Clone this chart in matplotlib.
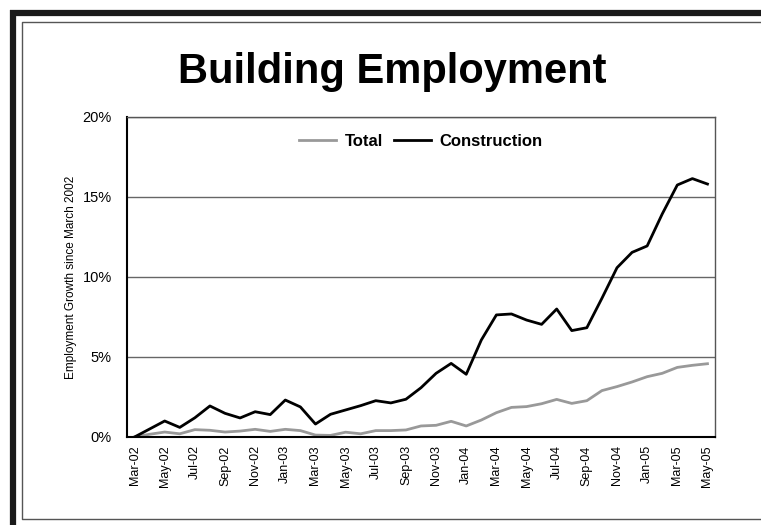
import numpy as np
import matplotlib
matplotlib.use('Agg')
import matplotlib.pyplot as plt
from matplotlib.lines import Line2D

plt.rcParams['font.family'] = ['Liberation Sans', 'DejaVu Sans']

# Monthly labels, Mar-02 through May-05
months = ['Mar-02', 'Apr-02', 'May-02', 'Jun-02', 'Jul-02', 'Aug-02', 'Sep-02', 'Oct-02',
          'Nov-02', 'Dec-02', 'Jan-03', 'Feb-03', 'Mar-03', 'Apr-03', 'May-03', 'Jun-03',
          'Jul-03', 'Aug-03', 'Sep-03', 'Oct-03', 'Nov-03', 'Dec-03', 'Jan-04', 'Feb-04',
          'Mar-04', 'Apr-04', 'May-04', 'Jun-04', 'Jul-04', 'Aug-04', 'Sep-04', 'Oct-04',
          'Nov-04', 'Dec-04', 'Jan-05', 'Feb-05', 'Mar-05', 'Apr-05', 'May-05']

# Growth since March 2002, in percent
total = [0.0, 0.17, 0.31, 0.2, 0.46, 0.42, 0.31, 0.37, 0.48, 0.35, 0.48, 0.4, 0.12,
         0.1, 0.3, 0.2, 0.4, 0.4, 0.44, 0.69, 0.73, 0.98, 0.69, 1.06, 1.52, 1.85,
         1.9, 2.08, 2.35, 2.1, 2.27, 2.9, 3.15, 3.44, 3.77, 3.98, 4.35, 4.48, 4.58]
construction = [0.0, 0.5, 1.0, 0.6, 1.2, 1.94, 1.48, 1.19, 1.58, 1.4, 2.31, 1.88, 0.81,
                1.42, 1.69, 1.96, 2.27, 2.13, 2.36, 3.08, 3.98, 4.6, 3.92, 6.06, 7.63,
                7.69, 7.31, 7.04, 8.0, 6.65, 6.83, 8.67, 10.58, 11.54, 11.94, 13.94,
                15.75, 16.15, 15.81]

W, H = 761, 525
fig = plt.figure(figsize=(W / 100, H / 100), dpi=100)

# frame around the whole chart: heavy top/left edge plus thin inner box
fig.add_artist(Line2D([10 / W, 1], [1 - 13 / H, 1 - 13 / H], color='#1a1a1a', lw=4.5,
                      transform=fig.transFigure, solid_capstyle='butt'))
fig.add_artist(Line2D([13 / W, 13 / W], [1 - 10 / H, 0], color='#1a1a1a', lw=4.5,
                      transform=fig.transFigure, solid_capstyle='butt'))
fig.add_artist(Line2D([1, 22 / W, 22 / W, 1], [1 - 21.5 / H, 1 - 21.5 / H, 6 / H, 6 / H],
                      color='#555555', lw=1.0, transform=fig.transFigure))

ax = fig.add_axes([127 / W, 1 - 437 / H, 588 / W, 320 / H])
x = np.arange(len(months))
ax.plot(x, total, color='#999999', lw=2.0, label='Total')
ax.plot(x, construction, color='black', lw=2.0, label='Construction')

ax.set_xlim(-0.5, len(months) - 0.5)
ax.set_ylim(0, 20)
ax.set_yticks([0, 5, 10, 15, 20])
ax.set_yticklabels(['0%', '5%', '10%', '15%', '20%'], fontsize=10.5)
ax.set_xticks(x[::2])
ax.set_xticklabels(months[::2], rotation=90, fontsize=9)
ax.tick_params(axis='both', length=0, pad=6)
ax.tick_params(axis='y', pad=11)
ax.yaxis.grid(True, color='#666666', lw=1.0)
ax.set_axisbelow(True)
for side in ['top', 'right']:
    ax.spines[side].set_color('#555555')
    ax.spines[side].set_linewidth(1.0)
for side in ['left', 'bottom']:
    ax.spines[side].set_color('black')
    ax.spines[side].set_linewidth(1.5)

ax.set_ylabel('Employment Growth since March 2002', fontsize=8.5, labelpad=4)

leg = ax.legend(loc='center', bbox_to_anchor=(0.5, 1 - 24 / 320), ncol=2, frameon=False,
                prop={'weight': 'bold', 'size': 12}, handlelength=2.2, columnspacing=0.7,
                handletextpad=0.5)

fig.text(392 / W, 1 - 83 / H, 'Building Employment', ha='center', va='baseline',
         fontsize=30, fontweight='bold')

fig.savefig('out.png', dpi=100)
